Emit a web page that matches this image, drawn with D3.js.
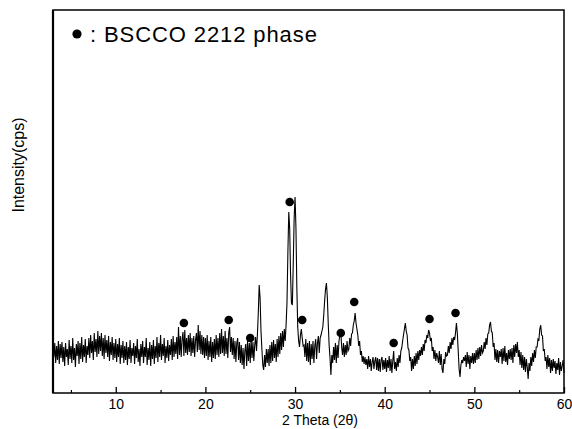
<!DOCTYPE html>
<html>
<head>
<meta charset="utf-8">
<script src="https://cdn.jsdelivr.net/npm/d3@7"></script>
<style>
  html, body { margin: 0; padding: 0; background: #fff; }
  svg { display: block; font-family: 'Liberation Sans', Arial, sans-serif; }
</style>
</head>
<body>
<div id="xrd-chart"></div>
<script>
// scan settings: 2theta from 3 to 60 deg, one reading every 0.1 deg
const twoThetaStart = 3
const twoThetaStep = 0.1

// intensity (cps), one row per degree (3.0 .. 3.9, 4.0 .. 4.9, ...)
const intensity = [
  58, 36, 50, 30, 47, 33, 52, 29, 49, 35,
  51, 31, 46, 27, 50, 36, 44, 28, 53, 34,
  47, 30, 55, 33, 45, 26, 49, 37, 52, 29,
  50, 34, 56, 31, 48, 36, 54, 30, 47, 38,
  55, 35, 58, 40, 52, 33, 60, 41, 54, 36,
  62, 39, 57, 42, 60, 37, 55, 34, 58, 40,
  53, 36, 57, 32, 51, 38, 56, 33, 50, 35,
  54, 31, 49, 36, 55, 29, 48, 35, 52, 30,
  47, 33, 51, 28, 46, 34, 53, 30, 45, 37,
  50, 29, 47, 35, 54, 31, 44, 27, 49, 36,
  52, 30, 46, 36, 55, 28, 45, 33, 51, 27,
  48, 34, 53, 29, 47, 35, 56, 31, 50, 36,
  58, 33, 49, 37, 55, 30, 47, 35, 53, 32,
  48, 38, 54, 33, 57, 36, 51, 39, 56, 34,
  66, 38, 57, 36, 54, 61, 37, 63, 40, 55,
  38, 58, 41, 60, 37, 55, 40, 57, 36, 53,
  60, 41, 68, 43, 62, 39, 58, 38, 56, 35,
  55, 37, 58, 33, 52, 36, 56, 31, 51, 35,
  54, 34, 58, 38, 55, 36, 60, 39, 64, 40,
  57, 37, 62, 39, 55, 35, 60, 66, 41, 56,
  38, 55, 34, 52, 31, 50, 55, 33, 51, 30,
  48, 28, 45, 24, 42, 49, 27, 52, 32, 50,
  30, 54, 35, 51, 32, 48, 56, 42, 58, 80,
  108, 95, 62, 44, 28, 23, 38, 26, 44, 30,
  44, 27, 48, 30, 51, 32, 53, 35, 49, 31,
  54, 36, 57, 39, 60, 43, 62, 46, 64, 52,
  68, 90, 140, 181, 165, 118, 90, 88, 130, 175,
  196, 165, 105, 66, 52, 46, 58, 64, 55, 47,
  48, 36, 54, 32, 50, 31, 52, 28, 49, 34,
  52, 30, 47, 54, 34, 50, 57, 40, 55, 58,
  62, 66, 78, 92, 104, 110, 96, 70, 48, 35,
  18, 38, 30, 46, 33, 50, 30, 48, 35, 52,
  58, 62, 46, 38, 50, 36, 48, 38, 52, 42,
  44, 55, 47, 59, 60, 68, 72, 80, 70, 64,
  58, 47, 52, 38, 42, 31, 37, 29, 36, 28,
  34, 24, 37, 26, 34, 22, 31, 36, 24, 32,
  36, 23, 35, 22, 34, 21, 33, 36, 23, 33,
  24, 35, 21, 33, 25, 37, 22, 34, 20, 32,
  42, 24, 31, 22, 35, 26, 38, 30, 42, 45,
  52, 58, 64, 70, 62, 58, 45, 43, 32, 36,
  22, 34, 24, 37, 27, 40, 29, 42, 33, 43,
  37, 46, 38, 49, 42, 53, 50, 58, 55, 63,
  60, 52, 55, 42, 46, 34, 43, 32, 40, 36,
  30, 42, 28, 39, 24, 20, 34, 29, 41, 37,
  38, 47, 40, 51, 44, 55, 48, 56, 53, 60,
  70, 60, 42, 24, 16, 28, 33, 30, 36, 32,
  38, 26, 41, 29, 38, 24, 37, 30, 40, 29,
  40, 30, 43, 33, 45, 34, 46, 37, 48, 40,
  42, 51, 44, 55, 48, 59, 60, 68, 71, 62,
  60, 46, 50, 33, 44, 31, 43, 30, 42, 36,
  44, 29, 45, 32, 47, 31, 40, 28, 43, 34,
  44, 33, 45, 30, 48, 36, 49, 40, 51, 36,
  43, 28, 41, 25, 38, 23, 36, 21, 34, 26,
  14, 30, 22, 36, 27, 40, 31, 43, 35, 46,
  46, 54, 53, 64, 68, 58, 57, 42, 44, 32,
  36, 24, 38, 26, 35, 20, 33, 22, 34, 25,
  32, 19, 30, 23, 35, 18, 31, 22, 27, 33,
  20
]

// BSCCO 2212 reflections marked with dots
const markerTwoTheta = [17.6, 22.6, 25.0, 29.4, 30.8, 35.1, 36.6, 41.0, 45.0, 47.9]
const markerIntensity = [70, 73, 55, 191, 73, 60, 91, 50, 74, 80]

const majorTicks = [10, 20, 30, 40, 50, 60]
const minorTicks = [5, 15, 25, 35, 45, 55]
const legendLabel = ': BSCCO 2212 phase'

const scan = intensity.map((v, i) => ({ tt: twoThetaStart + i * twoThetaStep, v: v }))
const markers = markerTwoTheta.map((tt, i) => ({ tt: tt, v: markerIntensity[i] }))

function drawPattern () {
  const width = 572
  const height = 429
  const left = 53
  const right = 564
  const top = 10
  const bottom = 393

  const svg = d3.select('#xrd-chart')
    .append('svg')
    .attr('width', width)
    .attr('height', height)

  const x = d3.scaleLinear().domain([3, 60]).range([left, right])
  const y = d3.scaleLinear().domain([0, 383]).range([bottom, top])

  const line = d3.line()
    .x(d => x(d.tt))
    .y(d => y(d.v))

  svg.append('path')
    .datum(scan)
    .attr('fill', 'none')
    .attr('stroke', '#000')
    .attr('stroke-width', 1.1)
    .attr('d', line)

  svg.append('g')
    .selectAll('circle')
    .data(markers)
    .enter()
    .append('circle')
    .attr('cx', d => x(d.tt))
    .attr('cy', d => y(d.v))
    .attr('r', 4.3)
    .attr('fill', '#000')

  // frame
  svg.append('rect')
    .attr('x', left)
    .attr('y', top)
    .attr('width', right - left)
    .attr('height', bottom - top)
    .attr('fill', 'none')
    .attr('stroke', '#000')
    .attr('stroke-width', 1.5)
  svg.append('line')
    .attr('x1', left).attr('x2', left)
    .attr('y1', top).attr('y2', bottom)
    .attr('stroke', '#000')
    .attr('stroke-width', 2.2)

  // ticks point up into the plot
  const axis = svg.append('g')
    .attr('transform', `translate(0,${bottom})`)
    .call(d3.axisBottom(x).tickValues(majorTicks).tickSize(-6).tickFormat(d3.format('d')))
  axis.select('.domain').remove()
  axis.selectAll('line').attr('stroke-width', 1.3)
  axis.selectAll('text')
    .attr('y', 16)
    .attr('dy', 0)
    .attr('fill', '#000')
    .attr('font-size', 14)
    .attr('font-family', 'Liberation Sans, Arial, sans-serif')

  const minor = svg.append('g')
    .attr('transform', `translate(0,${bottom})`)
    .call(d3.axisBottom(x).tickValues(minorTicks).tickSize(-3).tickFormat(''))
  minor.select('.domain').remove()
  minor.selectAll('line').attr('stroke-width', 1.2)

  svg.append('text')
    .attr('x', 320)
    .attr('y', 425)
    .attr('text-anchor', 'middle')
    .attr('font-size', 14)
    .text('2 Theta (2θ)')

  svg.append('text')
    .attr('transform', 'translate(24,165) rotate(-90)')
    .attr('text-anchor', 'middle')
    .attr('font-size', 16)
    .text('Intensity(cps)')

  // legend
  svg.append('circle')
    .attr('cx', 77)
    .attr('cy', 34)
    .attr('r', 4.6)
    .attr('fill', '#000')
  svg.append('text')
    .attr('x', 90)
    .attr('y', 42)
    .attr('font-size', 22)
    .attr('letter-spacing', 0.9)
    .text(legendLabel)
}

drawPattern()
</script>
</body>
</html>
